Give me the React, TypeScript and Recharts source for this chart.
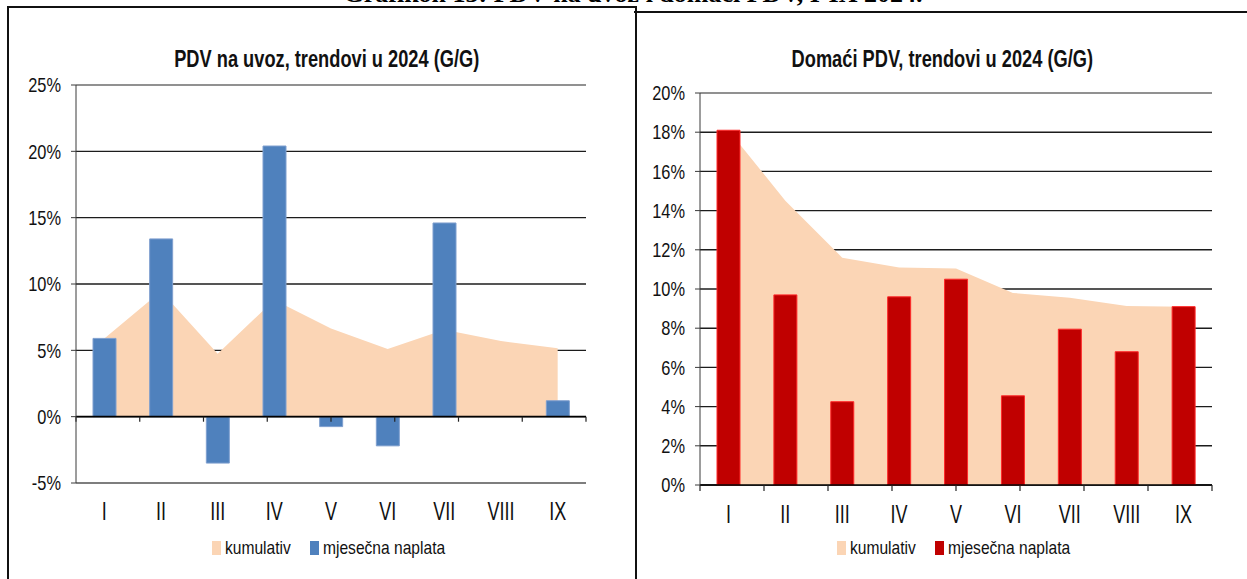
import {
  ComposedChart,
  Area,
  Bar,
  XAxis,
  YAxis,
  CartesianGrid,
  ReferenceLine,
} from 'recharts';

// months on the category axis
const months = ['I', 'II', 'III', 'IV', 'V', 'VI', 'VII', 'VIII', 'IX'];

// PDV na uvoz (import VAT), % y/y
const importCumulative = [5.9, 9.45, 4.75, 8.8, 6.65, 5.1, 6.55, 5.7, 5.15];
const importMonthly = [5.9, 13.4, -3.5, 20.4, -0.75, -2.2, 14.6, 0, 1.2];
const importTicks = [-5, 0, 5, 10, 15, 20, 25];

// Domaći PDV (domestic VAT), % y/y
const domesticCumulative = [18.1, 14.5, 11.6, 11.1, 11.05, 9.8, 9.55, 9.13, 9.1];
const domesticMonthly = [18.1, 9.7, 4.25, 9.6, 10.5, 4.55, 7.95, 6.8, 9.1];
const domesticTicks = [0, 2, 4, 6, 8, 10, 12, 14, 16, 18, 20];

const seriesNames = ['kumulativ', 'mjesečna naplata'];
const heading = 'Grafikon 13: PDV na uvoz i domaći PDV, I-IX 2024.';

// no Arial Narrow here, so Liberation Sans squeezed horizontally
const SANS = "'Liberation Sans', Arial, sans-serif";
const SQUEEZE = 0.82;
const AREA_COLOR = '#FBD5B5';

// category boundaries 0..n for the tick marks on the zero line
const boundaries = Array.from({ length: months.length + 1 }, (_, i) => i);

function YTick(props: any) {
  const { x, y, payload } = props;
  return (
    <g transform={`translate(${x},${y})`}>
      <text
        transform={`scale(${SQUEEZE},1)`}
        textAnchor="end"
        dy="0.36em"
        fontSize={20}
        fontFamily={SANS}
        fill="#111"
      >
        {`${payload.value}%`}
      </text>
    </g>
  );
}

function XTick(props: any) {
  const { x, y, payload } = props;
  return (
    <g transform={`translate(${x},${y})`}>
      <text
        transform="scale(0.72,1)"
        textAnchor="middle"
        dy="0.72em"
        fontSize={25}
        fontFamily={SANS}
        fill="#111"
      >
        {payload.value}
      </text>
    </g>
  );
}

function Narrow({ children, size, bold, origin, squeeze = SQUEEZE }: any) {
  return (
    <span
      style={{
        display: 'inline-block',
        transform: `scaleX(${squeeze})`,
        transformOrigin: origin,
        fontFamily: SANS,
        fontSize: size,
        fontWeight: bold ? 'bold' : 'normal',
        whiteSpace: 'nowrap',
      }}
    >
      {children}
    </span>
  );
}

interface PanelProps {
  title: string;
  cumulative: number[];
  monthly: number[];
  ticks: number[];
  barColor: string;
  barStroke: string;
  left: number;
  width: number;
  yAxisWidth: number;
  top: number;
  right: number;
  xAxisHeight: number;
  labelGap: number;
  tickLen: number;
  legendLeft: number;
  titleCenter: number;
}

function Panel(p: PanelProps) {
  const data = months.map((m, i) => ({
    month: m,
    kumulativ: p.cumulative[i],
    mjesecna: p.monthly[i],
  }));
  const min = p.ticks[0];
  const max = p.ticks[p.ticks.length - 1];

  return (
    <div style={{ position: 'absolute', left: p.left, top: 0, width: p.width, height: 579 }}>
      <div
        style={{
          position: 'absolute',
          left: p.titleCenter - 250,
          width: 500,
          top: 44,
          textAlign: 'center',
          lineHeight: '30px',
          color: '#111',
        }}
      >
        <Narrow size={24} bold origin="center" squeeze={0.76}>
          {p.title}
        </Narrow>
      </div>
      <ComposedChart
        width={p.width}
        height={579}
        data={data}
        margin={{ top: p.top, right: p.right, bottom: 0, left: 0 }}
        barSize={23}
      >
        <CartesianGrid vertical={false} stroke="#1c1c1c" strokeWidth={1.4} />
        <XAxis
          dataKey="month"
          height={p.xAxisHeight}
          axisLine={false}
          tickLine={false}
          tickSize={0}
          tickMargin={p.labelGap}
          interval={0}
          tick={<XTick />}
        />
        <XAxis xAxisId="b" type="number" domain={[0, months.length]} hide />
        <YAxis
          width={p.yAxisWidth}
          domain={[min, max]}
          ticks={p.ticks}
          interval={0}
          tickSize={5}
          tickMargin={10}
          stroke="#3a3a3a"
          tick={<YTick />}
        />
        <Area
          type="linear"
          dataKey="kumulativ"
          name={seriesNames[0]}
          stroke="none"
          fill={AREA_COLOR}
          fillOpacity={1}
          baseValue={0}
          isAnimationActive={false}
        />
        <Bar
          dataKey="mjesecna"
          name={seriesNames[1]}
          fill={p.barColor}
          stroke={p.barStroke}
          strokeWidth={1}
          isAnimationActive={false}
        />
        {/* plot area border (grey) */}
        <ReferenceLine y={max} stroke="#a6a6a6" strokeWidth={1.5} />
        {min < 0 && <ReferenceLine y={min} stroke="#8c8c8c" strokeWidth={1.5} />}
        <ReferenceLine xAxisId="b" x={months.length} stroke="#a6a6a6" strokeWidth={1.5} />
        {/* category axis at zero with boundary ticks */}
        <ReferenceLine y={0} stroke="#000" strokeWidth={1.6} ifOverflow="visible" />
        {boundaries.map((b) => (
          <ReferenceLine
            key={b}
            xAxisId="b"
            segment={[
              { x: b, y: 0 },
              { x: b, y: -p.tickLen },
            ]}
            stroke="#222"
            strokeWidth={1.2}
            ifOverflow="visible"
          />
        ))}
      </ComposedChart>
      {seriesNames.map((name, i) => (
        <div
          key={name}
          style={{
            position: 'absolute',
            left: p.legendLeft + i * 98,
            top: 536,
            height: 24,
            display: 'flex',
            alignItems: 'center',
            color: '#111',
          }}
        >
          <span
            style={{
              display: 'inline-block',
              width: 9,
              height: 14,
              marginRight: 4,
              background: i === 0 ? AREA_COLOR : p.barColor,
            }}
          />
          <Narrow size={19} origin="left center">
            {name}
          </Narrow>
        </div>
      ))}
    </div>
  );
}

export default function App() {
  return (
    <div
      style={{
        position: 'fixed',
        left: 0,
        top: 0,
        width: 1247,
        height: 579,
        background: '#fff',
        overflow: 'hidden',
      }}
    >
      <div
        style={{
          position: 'absolute',
          left: 0,
          width: 1266,
          top: -19,
          textAlign: 'center',
          fontFamily: "'Liberation Serif', serif",
          fontWeight: 'bold',
          fontSize: 26,
          lineHeight: '26px',
          whiteSpace: 'nowrap',
        }}
      >
        {heading}
      </div>
      {/* frames */}
      <div
        style={{
          position: 'absolute',
          left: 7,
          top: 6,
          width: 626,
          height: 620,
          borderTop: '2px solid #111',
          borderLeft: '2px solid #111',
          borderRight: '2px solid #111',
        }}
      />
      <div
        style={{
          position: 'absolute',
          left: 634,
          top: 11,
          width: 613,
          borderTop: '2px solid #111',
        }}
      />
      <Panel
        title="PDV na uvoz, trendovi u 2024 (G/G)"
        cumulative={importCumulative}
        monthly={importMonthly}
        ticks={importTicks}
        barColor="#4F81BD"
        barStroke="#7f9fcf"
        left={0}
        width={634}
        yAxisWidth={76}
        top={85}
        right={48}
        xAxisHeight={96}
        labelGap={19}
        tickLen={0.38}
        legendLeft={212}
        titleCenter={327}
      />
      <Panel
        title="Domaći PDV, trendovi u 2024 (G/G)"
        cumulative={domesticCumulative}
        monthly={domesticMonthly}
        ticks={domesticTicks}
        barColor="#C00000"
        barStroke="#ff2a2a"
        left={634}
        width={613}
        yAxisWidth={66}
        top={93}
        right={35}
        xAxisHeight={94}
        labelGap={20}
        tickLen={0.3}
        legendLeft={203}
        titleCenter={308}
      />
    </div>
  );
}
